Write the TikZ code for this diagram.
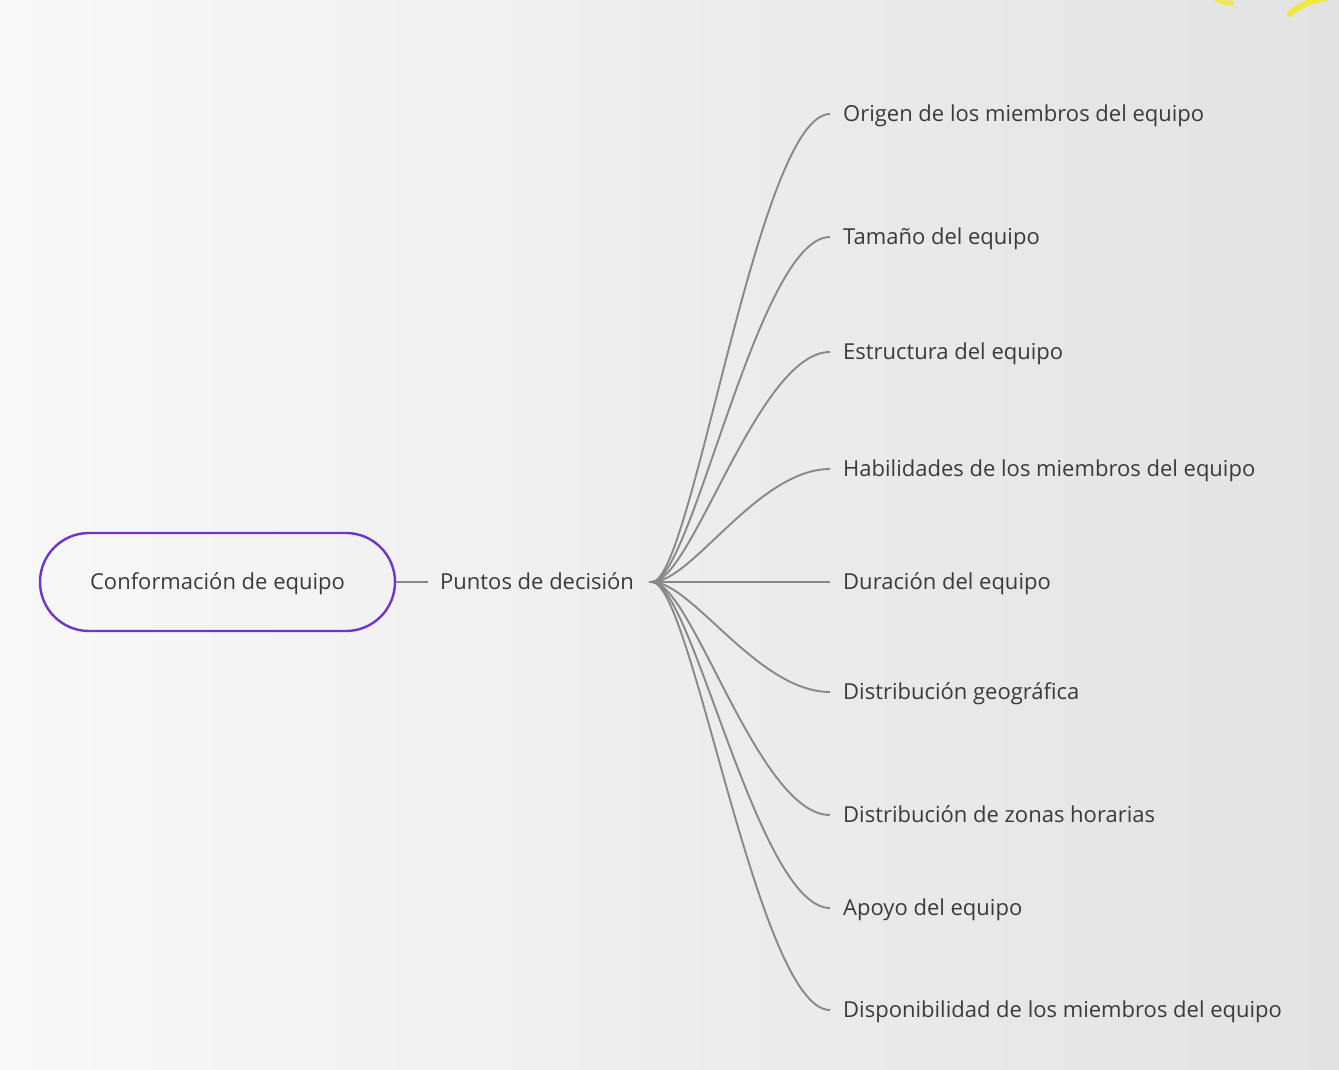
\documentclass[tikz,border=0pt]{standalone}
\usepackage{fontspec}
\setmainfont{Open Sans}
\definecolor{txt}{HTML}{3A3A3A}
\definecolor{lnk}{HTML}{888888}
\definecolor{pill}{HTML}{6E34CF}
\definecolor{bgl}{HTML}{F8F8F8}
\definecolor{bgr}{HTML}{E2E2E2}
\definecolor{hl}{HTML}{F2EA2A}
\tikzset{
  lbl/.style={text=txt, font=\fontsize{22}{26}\selectfont, text height=15.5pt, text depth=0pt},
  leaf/.style={lbl, anchor=west, inner xsep=13pt, inner ysep=0pt},
  link/.style={draw=lnk, line width=1.9pt},
}
\begin{document}
\begin{tikzpicture}[x=1pt,y=-1pt]
\useasboundingbox (0,0) rectangle (1339,1070);
\shade[left color=bgl, right color=bgr] (0,0) rectangle (1339,1070);
\begin{scope}
\clip (0,0) rectangle (1339,1070);
\draw[hl, line width=6pt, line cap=round, opacity=0.9] (1290,14) .. controls (1300,2) and (1330,-4) .. (1345,-6);
\draw[hl, line width=5pt, line cap=round, opacity=0.8] (1212,-4) .. controls (1220,2) and (1228,4) .. (1232,3);
\end{scope}
\node[lbl, draw=pill, line width=2.4pt, rounded corners=49pt, minimum width=355pt, minimum height=98pt] (root) at (217.5,582) {Conformación de equipo};
\node[lbl, anchor=west, inner xsep=12pt] (pd) at (428,582) {Puntos de decisión};
\coordinate (hub) at (652,582);
\draw[link] (root.east) -- (pd.west);
\node[leaf] (l1) at (830,114) {Origen de los miembros del equipo};
\node[leaf] (l2) at (830,237) {Tamaño del equipo};
\node[leaf] (l3) at (830,352) {Estructura del equipo};
\node[leaf] (l4) at (830,469) {Habilidades de los miembros del equipo};
\node[leaf] (l5) at (830,582) {Duración del equipo};
\node[leaf] (l6) at (830,692) {Distribución geográfica};
\node[leaf] (l7) at (830,815) {Distribución de zonas horarias};
\node[leaf] (l8) at (830,908) {Apoyo del equipo};
\node[leaf] (l9) at (830,1010) {Disponibilidad de los miembros del equipo};
\draw[link] (pd.east) ++(3,0) -- (hub);
\foreach \n in {l1,l2,l3,l4,l6,l7,l8,l9}{
  \draw[link] (hub) .. controls +(40,0) and +(-72,0) .. (\n.west);
}
\draw[link] (hub) -- (l5.west);
\end{tikzpicture}
\end{document}
